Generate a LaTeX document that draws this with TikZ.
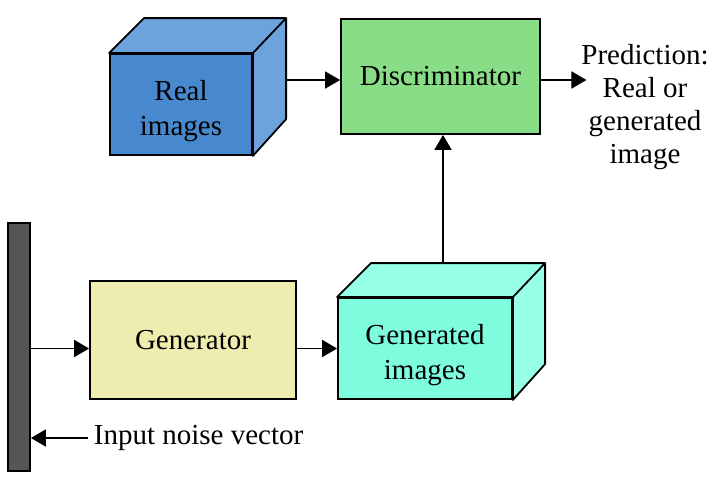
\documentclass[tikz,border=0pt]{standalone}
\usepackage{fontspec}
\setmainfont{Liberation Serif}
\newfontfamily\figserif{Liberation Serif}
\usetikzlibrary{arrows.meta}
\usetikzlibrary{positioning,shapes}

\definecolor{realfront}{RGB}{72,136,206}
\definecolor{realside}{RGB}{108,163,220}
\definecolor{discgreen}{RGB}{137,221,134}
\definecolor{genyellow}{RGB}{239,236,176}
\definecolor{fakefront}{RGB}{125,252,222}
\definecolor{fakeside}{RGB}{150,255,230}
\definecolor{bargray}{RGB}{85,85,85}

\tikzset{
  box/.style={draw, rectangle, inner sep=0pt, align=center},
  cubeface/.style={draw, line join=round}
}

\begin{document}
\begin{tikzpicture} [->,>={Triangle[length=15pt,width=17pt]},x=1pt,y=-1pt,line width=1.8pt,
  font=\figserif\fontsize{29}{35}\selectfont]

  \useasboundingbox (0,0) rectangle (715,488);

  % front faces
  \node[box, fill=realfront, text height=69pt, minimum width=142pt, minimum height=101pt] (real) at (181,104.5) {Real\\images};
  \node[box, fill=discgreen, minimum width=199pt, minimum height=115pt] (disc) at (440.5,76.5) {Discriminator};
  \node[box, fill=genyellow, minimum width=206pt, minimum height=118pt] (gen) at (193,340) {Generator};
  \node[box, fill=fakefront, text height=69pt, minimum width=174pt, minimum height=101pt] (fake) at (425,348.5) {Generated\\images};
  \node[box, fill=bargray, minimum width=22pt, minimum height=248pt] (bar) at (19,347) {};

  % texts
  \node[align=center, inner sep=0pt, font=\figserif\fontsize{29}{33}\selectfont] (pred) at (645,107) {Prediction:\\Real or\\generated\\image};
  \node[anchor=west, inner sep=0pt] (noise) at (93,438) {Input noise vector};

  % cube sides
  \path[-] [cubeface, fill=realside]
    (real.north west) -- ++(35,-35) -- ++(142,0) coordinate (realtr) -- (real.north east) -- cycle
    (real.north east) -- (realtr) -- ++(0,101) -- (real.south east) -- cycle;
  \path[-] [cubeface, fill=fakeside]
    (fake.north west) -- ++(34,-34) coordinate (faketl) -- ++(174,0) coordinate (faketr) -- (fake.north east) -- cycle
    (fake.north east) -- (faketr) -- ++(0,101) -- (fake.south east) -- cycle;

  % connectors
  \draw ([yshift=-3.5pt]disc.west -| realtr) -- ([yshift=-3.5pt]disc.west);
  \draw ([yshift=-3.5pt]disc.east) -- ([yshift=-3.5pt,xshift=6pt]disc.east -| pred.west);
  \draw ([xshift=2.5pt]disc.south |- faketl) -- ([xshift=2.5pt]disc.south);
  \draw (bar.east |- fake.west) -- (gen.west |- fake.west);
  \draw (gen.east |- fake.west) -- (fake.west);
  \draw ([xshift=-5pt]noise.west) -- (bar.east |- noise.west);

\end{tikzpicture}
\end{document}
